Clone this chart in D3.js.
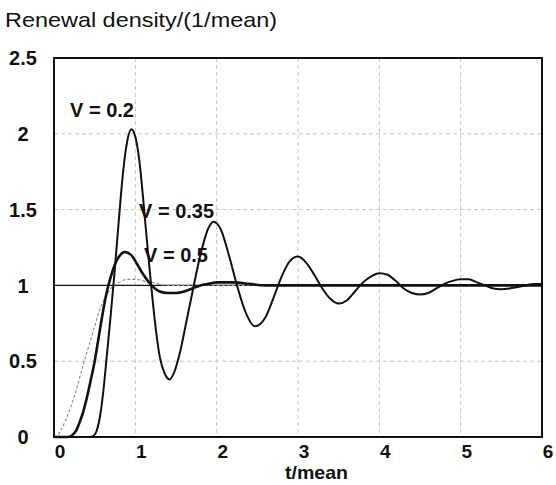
<!DOCTYPE html>
<html>
<head>
<meta charset="utf-8">
<script src="https://cdn.jsdelivr.net/npm/d3@7"></script>
<style>
  body { margin: 0; background: #fff; }
  text { font-family: "Liberation Sans", Arial, sans-serif; fill: #111; }
</style>
</head>
<body>
<div id="chart"></div>
<script>
// values
const xTicks = [0, 1, 2, 3, 4, 5, 6];
const yTicks = [0, 0.5, 1, 1.5, 2, 2.5];
const yTickLabels = ["0", "0.5", "1", "1.5", "2", "2.5"];

const v02 = [
  [0, 0], [0.44, 0], [0.49, 0.01], [0.53, 0.05], [0.57, 0.15], [0.61, 0.32], [0.65, 0.54],
  [0.7, 0.82], [0.75, 1.12], [0.8, 1.45], [0.85, 1.75], [0.9, 1.95], [0.95, 2.03],
  [1.0, 1.98], [1.05, 1.82], [1.1, 1.55], [1.15, 1.25], [1.2, 0.97], [1.25, 0.72],
  [1.3, 0.53], [1.36, 0.42], [1.42, 0.38], [1.48, 0.43], [1.55, 0.56], [1.62, 0.74],
  [1.7, 0.95], [1.8, 1.2], [1.9, 1.38], [1.96, 1.42], [2.05, 1.37], [2.15, 1.2],
  [2.25, 1.0], [2.35, 0.83], [2.47, 0.73], [2.6, 0.79], [2.7, 0.92], [2.8, 1.06],
  [2.9, 1.16], [3.0, 1.19], [3.1, 1.15], [3.2, 1.07], [3.3, 0.98], [3.4, 0.91],
  [3.5, 0.88], [3.6, 0.9], [3.7, 0.96], [3.8, 1.02], [3.9, 1.06], [4.0, 1.08],
  [4.1, 1.07], [4.2, 1.03], [4.3, 0.98], [4.4, 0.95], [4.5, 0.94], [4.6, 0.95],
  [4.7, 0.98], [4.8, 1.01], [4.9, 1.03], [5.0, 1.04], [5.1, 1.04], [5.2, 1.02],
  [5.3, 1.0], [5.4, 0.98], [5.5, 0.975], [5.6, 0.98], [5.7, 0.99], [5.8, 1.0],
  [5.9, 1.01], [6.0, 1.01]
];

const v035 = [
  [0, 0], [0.17, 0], [0.22, 0.01], [0.27, 0.04], [0.31, 0.09], [0.35, 0.15], [0.4, 0.25],
  [0.45, 0.37], [0.5, 0.5], [0.55, 0.66], [0.6, 0.82], [0.65, 0.96], [0.7, 1.06],
  [0.75, 1.14], [0.8, 1.19], [0.87, 1.22], [0.95, 1.2], [1.0, 1.16], [1.1, 1.07],
  [1.2, 1.0], [1.3, 0.96], [1.4, 0.95], [1.5, 0.95], [1.6, 0.96], [1.7, 0.98],
  [1.8, 1.0], [1.9, 1.01], [2.0, 1.02], [2.2, 1.02], [2.4, 1.01], [2.6, 1.0],
  [3.0, 1.0], [4.0, 1.0], [5.0, 1.0], [6.0, 1.0]
];

const v05 = [
  [0, 0], [0.05, 0.015], [0.1, 0.06], [0.15, 0.12], [0.2, 0.19], [0.25, 0.27],
  [0.3, 0.36], [0.35, 0.46], [0.4, 0.55], [0.45, 0.64], [0.5, 0.73], [0.55, 0.82],
  [0.6, 0.89], [0.65, 0.94], [0.7, 0.98], [0.8, 1.02], [0.9, 1.04], [1.0, 1.04],
  [1.1, 1.03], [1.2, 1.02], [1.4, 1.0], [2.0, 1.0], [6.0, 1.0]
];

const labels = [
  { text: "V = 0.2", x: 70, y: 117 },
  { text: "V = 0.35", x: 139, y: 218 },
  { text: "V = 0.5", x: 144, y: 262 }
];

const W = 556, H = 485;
const margin = { top: 58, right: 14, bottom: 48, left: 54 };
const width = W - margin.left - margin.right;
const height = H - margin.top - margin.bottom;

const svg = d3.select("#chart").append("svg")
  .attr("width", W)
  .attr("height", H);

const g = svg.append("g")
  .attr("transform", `translate(${margin.left},${margin.top})`);

const x = d3.scaleLinear().domain([0, 6]).range([0, width]);
const y = d3.scaleLinear().domain([0, 2.5]).range([height, 0]);

// grid
g.append("g")
  .selectAll("line")
  .data(xTicks.slice(1, -1))
  .join("line")
  .attr("x1", d => x(d)).attr("x2", d => x(d))
  .attr("y1", 0).attr("y2", height)
  .attr("stroke", "#c4c4c4")
  .attr("stroke-width", 1)
  .attr("stroke-dasharray", "4,3");

g.append("g")
  .selectAll("line")
  .data(yTicks.slice(1, -1).filter(d => d !== 1))
  .join("line")
  .attr("x1", 0).attr("x2", width)
  .attr("y1", d => y(d)).attr("y2", d => y(d))
  .attr("stroke", "#c4c4c4")
  .attr("stroke-width", 1)
  .attr("stroke-dasharray", "4,3");

// reference line at 1
g.append("line")
  .attr("x1", 0).attr("x2", width)
  .attr("y1", y(1)).attr("y2", y(1))
  .attr("stroke", "#111")
  .attr("stroke-width", 1.4);

const line = d3.line()
  .x(d => x(d[0]))
  .y(d => y(d[1]))
  .curve(d3.curveMonotoneX);

g.append("path")
  .datum(v05)
  .attr("fill", "none")
  .attr("stroke", "#888")
  .attr("stroke-width", 1.1)
  .attr("stroke-dasharray", "3,2")
  .attr("d", line);

g.append("path")
  .datum(v035)
  .attr("fill", "none")
  .attr("stroke", "#111")
  .attr("stroke-width", 2.6)
  .attr("d", line);

g.append("path")
  .datum(v02)
  .attr("fill", "none")
  .attr("stroke", "#111")
  .attr("stroke-width", 2)
  .attr("d", line);

// frame
g.append("rect")
  .attr("width", width)
  .attr("height", height)
  .attr("fill", "none")
  .attr("stroke", "#111")
  .attr("stroke-width", 2);

// tick labels
svg.append("g")
  .selectAll("text")
  .data(yTicks)
  .join("text")
  .attr("x", 23)
  .attr("y", d => margin.top + y(d))
  .attr("dy", "0.36em")
  .attr("text-anchor", "middle")
  .style("font-size", "20px")
  .style("font-weight", "bold")
  .text((d, i) => yTickLabels[i]);

svg.append("g")
  .selectAll("text")
  .data(xTicks)
  .join("text")
  .attr("x", d => margin.left + x(d) + 6)
  .attr("y", 458)
  .attr("text-anchor", "middle")
  .style("font-size", "19px")
  .style("font-weight", "bold")
  .text(d => d);

// axis titles
svg.append("text")
  .attr("x", 5)
  .attr("y", 27)
  .attr("textLength", 272)
  .attr("lengthAdjust", "spacingAndGlyphs")
  .style("font-size", "21px")
  .text("Renewal density/(1/mean)");

svg.append("text")
  .attr("x", 285)
  .attr("y", 479)
  .attr("textLength", 63)
  .attr("lengthAdjust", "spacingAndGlyphs")
  .style("font-size", "19px")
  .style("font-weight", "bold")
  .text("t/mean");

// curve labels
svg.append("g")
  .selectAll("text")
  .data(labels)
  .join("text")
  .attr("x", d => d.x)
  .attr("y", d => d.y)
  .style("font-size", "20px")
  .style("font-weight", "bold")
  .text(d => d.text);
</script>
</body>
</html>
